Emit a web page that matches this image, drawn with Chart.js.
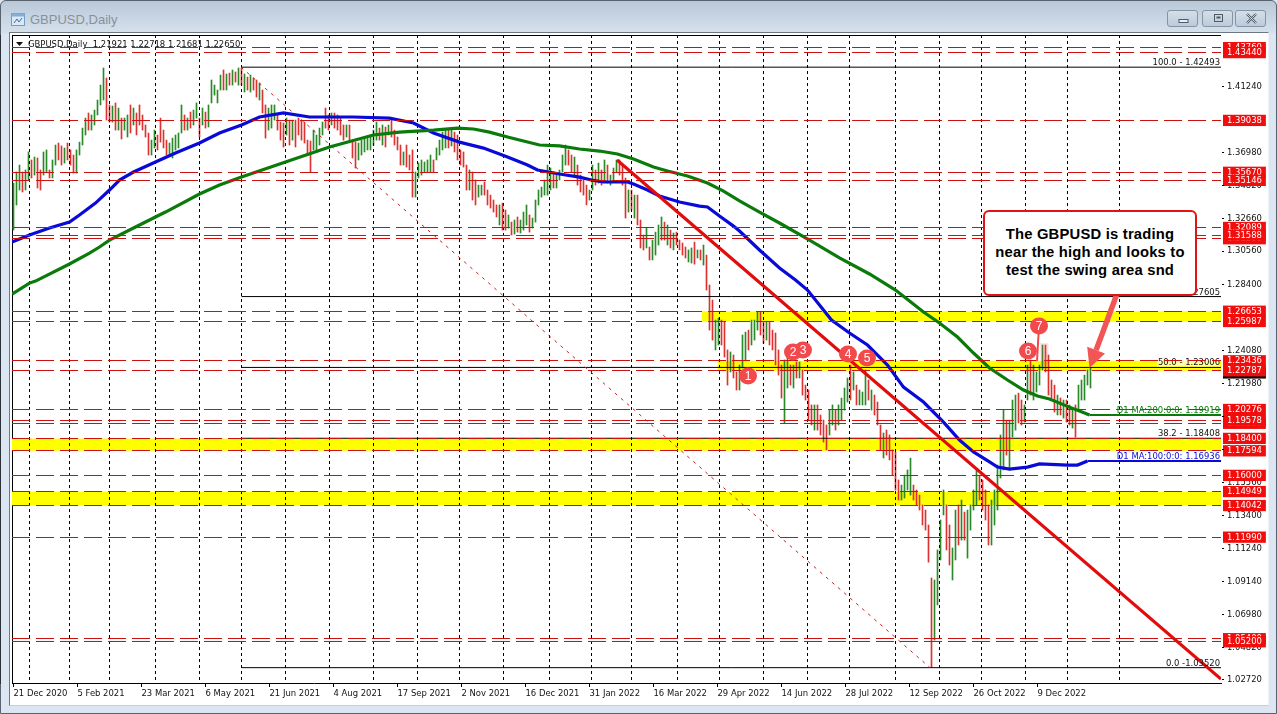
<!DOCTYPE html>
<html>
<head>
<meta charset="utf-8">
<title>GBPUSD,Daily</title>
<script src="https://cdn.jsdelivr.net/npm/chart.js@4"></script>
<style>
html, body { margin: 0; padding: 0; width: 1277px; height: 714px; overflow: hidden; background: #dbe6f1; }
#frame { position: absolute; left: 0; top: 0; width: 1275px; height: 712px; border: 1px solid #59636e; border-radius: 6px 6px 0 0;
    background: linear-gradient(#b9c8d8 0, #d6e1ec 32px, #dbe6f2 33px); }
#panel { position: absolute; left: 9px; top: 32px; width: 1258px; height: 672px; background: #fff;
    border-left: 1px solid #6d7780; border-top: 1px solid #6d7780; border-right: 1px solid #eef2f6; border-bottom: 1px solid #c9ced4; }
#plotEdge { position: absolute; left: 12px; top: 35px; width: 1209px; height: 648px; border-left: 1px solid #000; border-top: 1px solid #000; box-sizing: border-box; }
#winTitle { position: absolute; left: 30px; top: 12px; font: 13px "Liberation Sans", sans-serif; color: #87919b; }
#winIcon { position: absolute; left: 11px; top: 12px; }
.winBtn { position: absolute; top: 10px; width: 31px; height: 17px; border: 1px solid #8494a5; border-radius: 3px; box-sizing: border-box;
    background: linear-gradient(#d5dfe9, #bccadb); }
.winBtn svg { position: absolute; left: 8px; top: 2px; }
canvas { position: absolute; left: 0; top: 0; }
#noteBox { position: absolute; left: 983px; top: 210px; width: 214px; height: 86px; box-sizing: border-box; background: #fff; border: 2px solid #e01414; border-radius: 6px;
    font: bold 14.8px/18px "Liberation Sans", Arial, sans-serif; color: #000; text-align: center; padding-top: 13px; letter-spacing: 0.2px; }
</style>
</head>
<body>
<div id="frame"></div>
<div id="panel"></div>
<div id="plotEdge"></div>
<svg id="winIcon" width="15" height="15"><rect x="0.5" y="1.5" width="13" height="12" fill="#dbe9f6" stroke="#6f9fc8"/><rect x="0.5" y="1.5" width="13" height="3" fill="#7fb0da"/><path d="M3 11 L6 7 L8 10 L11 6" fill="none" stroke="#3d6f9c"/></svg>
<div id="winTitle">GBPUSD,Daily</div>
<div class="winBtn" style="left:1167px"><svg width="15" height="12"><rect x="3" y="6.5" width="9" height="3" fill="#e8eef4" stroke="#4f5a65"/></svg></div>
<div class="winBtn" style="left:1202px"><svg width="15" height="12"><rect x="3.5" y="1.5" width="8" height="7" fill="none" stroke="#4f5a65"/><rect x="5.5" y="3.5" width="4" height="2" fill="#4f5a65"/></svg></div>
<div class="winBtn" style="left:1235px"><svg width="15" height="12"><path d="M3 1 L12 10 M12 1 L3 10" stroke="#4f5a65" stroke-width="2.4"/><path d="M3 1 L12 10 M12 1 L3 10" stroke="#eef2f6" stroke-width="0.8"/></svg></div>
<canvas id="chart" width="1277" height="714"></canvas>
<div id="noteBox">The GBPUSD is trading<br>near the high and looks to<br>test the swing area snd</div>

<script>
// --- DATOS ---
const barHigh = [
    1.3497,1.3569,1.3614,1.3569,1.3582,1.3699,1.3647,1.3666,1.3660,1.3582,
    1.3699,1.3712,1.3582,1.3647,1.3744,1.3757,1.3738,1.3725,1.3757,1.3712,
    1.3679,1.3712,1.3763,1.3854,1.3919,1.3952,1.3939,1.3971,1.4036,1.4133,
    1.4244,1.4179,1.4004,1.3997,1.4017,1.3984,1.3919,1.3919,1.3939,1.4004,
    1.3984,1.3952,1.4004,1.3939,1.3874,1.3822,1.3776,1.3841,1.3809,1.3919,
    1.3841,1.3776,1.3757,1.3789,1.3809,1.3822,1.4004,1.3939,1.3919,1.3958,
    1.3971,1.4017,1.3919,1.3984,1.3958,1.4004,1.4166,1.4133,1.4101,1.4198,
    1.4231,1.4205,1.4211,1.4231,1.4218,1.4244,1.4244,1.4205,1.4185,1.4198,
    1.4179,1.4166,1.4146,1.4101,1.4004,1.3984,1.4004,1.4004,1.3939,1.3893,
    1.3887,1.3919,1.3906,1.3906,1.3906,1.3919,1.3906,1.3893,1.3776,1.3770,
    1.3841,1.3809,1.3854,1.3893,1.3984,1.3939,1.3952,1.3952,1.3939,1.3919,
    1.3874,1.3874,1.3874,1.3776,1.3763,1.3757,1.3776,1.3789,1.3802,1.3809,
    1.3841,1.3893,1.3854,1.3874,1.3861,1.3874,1.3906,1.3841,1.3796,1.3744,
    1.3699,1.3744,1.3679,1.3712,1.3569,1.3627,1.3647,1.3634,1.3647,1.3679,
    1.3647,1.3725,1.3776,1.3828,1.3841,1.3841,1.3841,1.3828,1.3809,1.3712,
    1.3699,1.3614,1.3582,1.3569,1.3517,1.3484,1.3484,1.3504,1.3452,1.3419,
    1.3387,1.3355,1.3355,1.3367,1.3322,1.3290,1.3244,1.3257,1.3277,1.3257,
    1.3309,1.3355,1.3290,1.3270,1.3387,1.3452,1.3471,1.3517,1.3614,1.3595,
    1.3569,1.3549,1.3582,1.3679,1.3744,1.3712,1.3679,1.3666,1.3614,1.3549,
    1.3517,1.3484,1.3452,1.3614,1.3582,1.3627,1.3582,1.3647,1.3614,1.3549,
    1.3595,1.3647,1.3647,1.3614,1.3530,1.3452,1.3452,1.3419,1.3419,1.3257,
    1.3160,1.3205,1.3082,1.3127,1.3179,1.3225,1.3277,1.3244,1.3225,1.3192,
    1.3173,1.3179,1.3127,1.3108,1.3082,1.3063,1.3076,1.3114,1.3063,1.3063,
    1.3095,1.3030,1.2835,1.2738,1.2608,1.2621,1.2608,1.2595,1.2414,1.2401,
    1.2381,1.2271,1.2316,1.2511,1.2530,1.2543,1.2608,1.2608,1.2660,1.2660,
    1.2595,1.2595,1.2595,1.2543,1.2524,1.2414,1.2316,1.2349,1.2368,1.2316,
    1.2316,1.2336,1.2336,1.2284,1.2186,1.2154,1.2057,1.2057,1.2057,1.1992,
    1.1959,1.1927,1.2024,1.2057,1.2024,1.2057,1.2102,1.2167,1.2232,1.2316,
    1.2271,1.2186,1.2154,1.2141,1.2284,1.2219,1.2154,1.2121,1.2076,1.1927,
    1.1875,1.1894,1.1862,1.1765,1.1752,1.1570,1.1537,1.1602,1.1635,1.1712,
    1.1537,1.1505,1.1472,1.1408,1.1375,1.1278,1.0934,1.0921,1.1116,1.1310,
    1.1505,1.1408,1.1278,1.1129,1.1375,1.1408,1.1440,1.1362,1.1375,1.1408,
    1.1505,1.1635,1.1602,1.1570,1.1505,1.1408,1.1440,1.1505,1.1667,1.1862,
    1.2024,1.1959,1.1959,1.2089,1.2121,1.2134,1.2089,1.2057,1.2316,1.2349,
    1.2316,1.2271,1.2316,1.2446,1.2446,1.2381,1.2219,1.2186,1.2121,1.2102,
    1.2089,1.2089,1.2057,1.2024,1.2057,1.2186,1.2219,1.2251,1.2284,1.2297
];
const barLow = [
    1.3192,1.3355,1.3452,1.3439,1.3452,1.3517,1.3530,1.3549,1.3465,1.3452,
    1.3549,1.3569,1.3530,1.3530,1.3614,1.3647,1.3614,1.3627,1.3647,1.3614,
    1.3562,1.3562,1.3679,1.3744,1.3809,1.3841,1.3841,1.3874,1.3939,1.4004,
    1.4036,1.3906,1.3893,1.3893,1.3841,1.3841,1.3783,1.3841,1.3796,1.3822,
    1.3874,1.3809,1.3874,1.3841,1.3796,1.3679,1.3679,1.3725,1.3712,1.3763,
    1.3725,1.3679,1.3679,1.3660,1.3712,1.3725,1.3822,1.3841,1.3841,1.3854,
    1.3874,1.3919,1.3796,1.3874,1.3854,1.3861,1.4017,1.4068,1.4017,1.4101,
    1.4101,1.4101,1.4133,1.4133,1.4153,1.4133,1.4133,1.4088,1.4101,1.4088,
    1.4101,1.4055,1.4036,1.3952,1.3789,1.3841,1.3854,1.3906,1.3841,1.3776,
    1.3731,1.3809,1.3744,1.3776,1.3731,1.3809,1.3776,1.3757,1.3679,1.3569,
    1.3712,1.3712,1.3744,1.3809,1.3854,1.3841,1.3874,1.3854,1.3841,1.3809,
    1.3776,1.3796,1.3763,1.3660,1.3595,1.3647,1.3679,1.3699,1.3712,1.3712,
    1.3744,1.3776,1.3776,1.3744,1.3731,1.3809,1.3796,1.3744,1.3712,1.3614,
    1.3614,1.3601,1.3582,1.3406,1.3406,1.3530,1.3549,1.3569,1.3569,1.3569,
    1.3569,1.3647,1.3679,1.3712,1.3725,1.3725,1.3738,1.3699,1.3647,1.3614,
    1.3601,1.3452,1.3452,1.3387,1.3355,1.3406,1.3419,1.3419,1.3355,1.3335,
    1.3309,1.3277,1.3225,1.3192,1.3192,1.3205,1.3160,1.3166,1.3179,1.3173,
    1.3192,1.3225,1.3179,1.3205,1.3244,1.3355,1.3406,1.3419,1.3419,1.3452,
    1.3465,1.3465,1.3517,1.3569,1.3614,1.3614,1.3569,1.3549,1.3484,1.3439,
    1.3419,1.3355,1.3387,1.3452,1.3484,1.3497,1.3484,1.3517,1.3497,1.3484,
    1.3517,1.3569,1.3549,1.3484,1.3270,1.3309,1.3322,1.3270,1.3225,1.3076,
    1.3063,1.3076,1.2998,1.2998,1.3030,1.3095,1.3127,1.3127,1.3095,1.3076,
    1.3063,1.3095,1.3063,1.3030,1.3011,1.2985,1.2978,1.2971,1.3011,1.2998,
    1.2965,1.2803,1.2543,1.2478,1.2414,1.2446,1.2446,1.2368,1.2186,1.2271,
    1.2232,1.2154,1.2154,1.2297,1.2349,1.2414,1.2446,1.2478,1.2543,1.2511,
    1.2459,1.2478,1.2446,1.2414,1.2316,1.2251,1.2102,1.1940,1.2167,1.2186,
    1.2167,1.2232,1.2232,1.2121,1.2089,1.1959,1.1927,1.1894,1.1894,1.1862,
    1.1816,1.1765,1.1862,1.1927,1.1894,1.1927,1.1959,1.2024,1.2076,1.2089,
    1.2154,1.2057,1.2057,1.2057,1.2057,1.2089,1.2024,1.1992,1.1927,1.1765,
    1.1713,1.1732,1.1700,1.1602,1.1505,1.1440,1.1440,1.1453,1.1505,1.1472,
    1.1440,1.1408,1.1375,1.1278,1.1245,1.1037,1.0356,1.0531,1.0759,1.1051,
    1.1343,1.1116,1.1018,1.0921,1.1051,1.1148,1.1180,1.1180,1.1063,1.1245,
    1.1375,1.1408,1.1440,1.1375,1.1310,1.1148,1.1148,1.1278,1.1375,1.1583,
    1.1635,1.1732,1.1635,1.1849,1.1894,1.1940,1.1927,1.1946,1.2089,1.2121,
    1.2089,1.2141,1.2186,1.2284,1.2271,1.2121,1.2102,1.2011,1.1992,1.1992,
    1.1972,1.1946,1.1927,1.1907,1.1849,1.2024,1.2089,1.2089,1.2186,1.2167
];
const barSide = (
    'uuuduuduDD' + 'uuduuDDuDD' + 'DuuuuDuuuu' + 'uDDuDuDuuD' + 'uDDDDDuuDD' + 'DDuuuuuDuD' +
    'uuDuDuuuuu' + 'DuDuDuDuDu' + 'DDuDDuuuDD' + 'DuDuDDDDDD' + 'uuuuDDuDDD' + 'DuDDDuuuuu' +
    'uuDuDuDDDD' + 'uDDDuuuuuu' + 'DuuuuDuDDD' + 'DDuDDuuDDD' + 'DDuDDuDuDu' + 'uuDuuuuuuu' +
    'DuuuuDDuDD' + 'DDuuDuDuDu' + 'uuDDDuDuDD' + 'DuDuuuuDuD' + 'uDDDDuuDuD' + 'uDDDuuDDDu' +
    'DDuuuDuuuD' + 'DuDDDDDuuD' + 'uDuDDDDuDD' + 'DDuuDuuuuD' + 'uDuuuDuDDD' + 'uDDDDDuuuu' +
    'DDDDDDDuuu' + 'uDDuuDuDuu' + 'uuDDDDuuuu' + 'uDuuuDDuuD' + 'uuuuDDDDuD' + 'uDDuDuuuuu'
).split('');

const blueBars = [-0.75,8,18,28,33,41,48,53,60,71,81,93,103,114,123,135,148,170,188,200,210,223,235,247,257,262,273,283,289,295,307,310,317,323,333,343,347,353,360,363,373,383,391,397,405,409,418,427,437,445,455,465,473,480,488,492,498,507,513,527,532,537];
const blueVals = [1.3115,1.3160,1.3205,1.3244,1.3290,1.3367,1.3452,1.3517,1.3569,1.3634,1.3692,1.3757,1.3822,1.3874,1.3926,1.3952,1.3926,1.3926,1.3919,1.3887,1.3822,1.3763,1.3724,1.3666,1.3614,1.3582,1.3556,1.3536,1.3517,1.3504,1.3504,1.3491,1.3452,1.3413,1.3374,1.3348,1.3342,1.3283,1.3218,1.3186,1.3063,1.2946,1.2868,1.2803,1.2673,1.2608,1.2524,1.2446,1.2316,1.2173,1.2076,1.1946,1.1829,1.1752,1.1687,1.1654,1.1641,1.1654,1.1674,1.1667,1.1667,1.1693];
const greenBars = [-0.75,8,11,28,38,43,48,61,76,93,103,114,136,158,180,193,210,222,230,238,247,255,263,273,283,293,302,310,320,327,337,347,355,363,373,383,398,413,428,441,448,455,463,472,480,488,497,505,512,518,528,533,538];
const greenVals = [1.2777,1.2848,1.2861,1.2972,1.3043,1.3082,1.3127,1.3212,1.3309,1.3426,1.3484,1.3536,1.3634,1.3731,1.3809,1.3828,1.3841,1.3854,1.3848,1.3828,1.3796,1.3770,1.3744,1.3738,1.3718,1.3705,1.3686,1.3653,1.3601,1.3575,1.3543,1.3497,1.3445,1.3381,1.3309,1.3238,1.3127,1.3011,1.2907,1.2803,1.2732,1.2660,1.2589,1.2498,1.2394,1.2297,1.2219,1.2154,1.2115,1.2096,1.2043,1.2018,1.1992];
const blueLast = 1.16936;
const greenLast = 1.19919;

const tickBars = [0,32,64,96,128,160,192,224,256,288,320,352,384,416,448,480,512];
const tickLabels = ['21 Dec 2020','5 Feb 2021','23 Mar 2021','6 May 2021','21 Jun 2021','4 Aug 2021','17 Sep 2021','2 Nov 2021','16 Dec 2021','31 Jan 2022','16 Mar 2022','29 Apr 2022','14 Jun 2022','28 Jul 2022','12 Sep 2022','26 Oct 2022','9 Dec 2022'];
const monthBars = [8,28,48,71,93,114,136,158,180,202,223,245,268,289,309,332,353,375,397,418,441,463,484,506,527,553];

const axisPrices = [1.4124,1.3698,1.3482,1.3266,1.3056,1.284,1.2408,1.2198,1.1982,1.1766,1.1556,1.134,1.1124,1.0914,1.0698,1.0482,1.0272];
const levelPrices = [1.4376,1.4344,1.39038,1.3567,1.35146,1.32089,1.3136,1.31588,1.26653,1.25987,1.23436,1.22787,1.20276,1.1938,1.19578,1.184,1.17594,1.16,1.14949,1.14042,1.1199,1.054,1.052];
const lastPrice = 1.2265;

const bandHigh = [1.26653,1.23436,1.184,1.14949];
const bandLow = [1.25987,1.22787,1.17594,1.14042];
const bandStart = [344,352,-0.75,-0.75];

const fibTexts = ['100.0 - 1.42493','61.8 - 1.27605','50.0 - 1.23006','38.2 - 1.18408','0.0 -1.03520'];
const fibPrices = [1.42493,1.27605,1.23006,1.18408,1.0352];
const fibStartBar = 114;
const fibDiagBars = [113.75,458.25];
const fibDiagVals = [1.42493,1.0352];
const trendBars = [301.75,603.75];
const trendVals = [1.3647,1.0278];

const swingNames = ['1','2','3','4','5','6','7'];
const swingBars = [367.25,389.75,394.75,417.25,426.75,507.25,512.75];
const swingVals = [1.2245,1.2401,1.2414,1.2388,1.2362,1.2407,1.2569];
const arrowBars = [551.5,538];
const arrowVals = [1.2770,1.2297];

const infoText = 'GBPUSD,Daily  1.21921 1.22718 1.21681 1.22650';
const blueText = 'D1 MA:100:0:0: 1.16936';
const greenText = 'D1 MA:200:0:0: 1.19919';

const X_MIN = -0.75, X_MAX = 603.75;
const Y_MIN = 1.02525, Y_MAX = 1.44581;
const AXIS_FONT = '"DejaVu Sans Condensed", "DejaVu Sans", sans-serif';

// --- CONJUNTOS ---
const pairs = (xs, ys) => xs.map((x, i) => ({ x: x, y: ys[i] }));
const plainLine = (data, color, width, extra) => Object.assign({
    type: 'line', data: data, borderColor: color, borderWidth: width, pointRadius: 0, tension: 0, fill: false
}, extra || {});

// las verticales van en un solo conjunto, cortadas con null
const monthPoints = [];
monthBars.forEach(b => {
    monthPoints.push({ x: b, y: Y_MAX }, { x: b, y: 1.0272 }, { x: b, y: null });
});

const fibPoints = [];
fibPrices.forEach(p => {
    fibPoints.push({ x: fibStartBar, y: p }, { x: X_MAX, y: p }, { x: X_MAX, y: null });
});

const datasets = [
    plainLine(pairs(trendBars, trendVals), '#e30c0c', 3.2),
    plainLine(pairs(greenBars, greenVals), '#0a7a0a', 3.2),
    plainLine(pairs([538, X_MAX], [greenLast, greenLast]), '#0a7a0a', 2),
    plainLine(pairs(blueBars, blueVals), '#0a0ad8', 3.2),
    plainLine(pairs([537, X_MAX], [blueLast, blueLast]), '#0a0ad8', 2),
    plainLine(pairs(fibDiagBars, fibDiagVals), '#c81e1e', 1, { borderDash: [3, 5] }),
    plainLine(fibPoints, '#000', 1, { spanGaps: false }),
    plainLine(monthPoints, '#000', 1, { borderDash: [3, 3], spanGaps: false }),
    {
        type: 'bar',
        data: barHigh.map((h, i) => ({ x: i * 1.5, y: [barLow[i], h] })),
        backgroundColor: barSide.map(s => s === 'u' ? '#2a8a2a' : '#dc3232'),
        borderWidth: 0,
        barThickness: 1
    }
];

bandHigh.forEach((h, i) => {
    datasets.push(plainLine(pairs([bandStart[i], X_MAX], [h, h]), 'rgba(0,0,0,0)', 0, { fill: '+1', backgroundColor: '#ffff00' }));
    datasets.push(plainLine(pairs([bandStart[i], X_MAX], [bandLow[i], bandLow[i]]), 'rgba(0,0,0,0)', 0));
});

// --- TEXTOS Y MARCAS ENCIMA ---
const notes = {
    id: 'notes',
    afterDatasetsDraw(chart) {
        const c = chart.ctx, ys = chart.scales.y;
        const right = chart.chartArea.right - 1;
        c.save();
        c.font = '9.4px ' + AXIS_FONT;
        c.textBaseline = 'alphabetic';
        c.textAlign = 'right';
        fibTexts.forEach((t, i) => {
            const y = ys.getPixelForValue(fibPrices[i]) - 2;
            if (fibPrices[i] === 1.23006) {
                c.fillStyle = 'rgba(255,255,255,0.65)';
                c.fillRect(right - c.measureText(t).width - 1, y - 7, c.measureText(t).width + 1, 8);
            }
            c.fillStyle = '#111';
            c.fillText(t, right, y);
        });
        c.fillStyle = '#0a7a0a';
        c.fillText(greenText, right, ys.getPixelForValue(greenLast) - 2);
        c.fillStyle = '#0a0ad8';
        c.fillText(blueText, right, ys.getPixelForValue(blueLast) - 2);
        c.textAlign = 'left';
        c.fillStyle = '#111';
        c.fillText(infoText, 28, 47);
        c.beginPath();
        c.moveTo(16, 42); c.lineTo(23, 42); c.lineTo(19.5, 46); c.closePath();
        c.fill();
        c.restore();
    },
    afterDraw(chart) {
        const c = chart.ctx, xs = chart.scales.x, ys = chart.scales.y;
        c.save();
        // parche claro junto al 7
        c.fillStyle = 'rgba(242,73,76,0.18)';
        c.fillRect(xs.getPixelForValue(513.5), ys.getPixelForValue(1.2458), 8, 22);
        c.fillStyle = '#f2494c';
        c.strokeStyle = '#f2494c';
        // tallo del 7
        c.lineWidth = 2;
        c.beginPath();
        c.moveTo(xs.getPixelForValue(swingBars[6]), ys.getPixelForValue(swingVals[6]));
        c.lineTo(xs.getPixelForValue(swingBars[6]) - 2, ys.getPixelForValue(1.2342));
        c.stroke();
        swingBars.forEach((b, i) => {
            c.beginPath();
            c.ellipse(xs.getPixelForValue(b), ys.getPixelForValue(swingVals[i]), 9, 8.5, 0, 0, Math.PI * 2);
            c.fill();
        });
        c.fillStyle = '#fff';
        c.font = '12px "Liberation Sans", sans-serif';
        c.textAlign = 'center';
        c.textBaseline = 'middle';
        swingNames.forEach((n, i) => {
            c.fillText(n, xs.getPixelForValue(swingBars[i]), ys.getPixelForValue(swingVals[i]) + 0.5);
        });
        // flecha grande
        const x0 = xs.getPixelForValue(arrowBars[0]), y0 = ys.getPixelForValue(arrowVals[0]);
        const x1 = xs.getPixelForValue(arrowBars[1]), y1 = ys.getPixelForValue(arrowVals[1]);
        const ang = Math.atan2(y1 - y0, x1 - x0);
        const neckX = x1 - Math.cos(ang) * 19, neckY = y1 - Math.sin(ang) * 19;
        c.strokeStyle = '#f25555';
        c.fillStyle = '#f25555';
        c.lineWidth = 5.5;
        c.beginPath();
        c.moveTo(x0, y0);
        c.lineTo(neckX, neckY);
        c.stroke();
        c.beginPath();
        c.moveTo(x1, y1);
        c.lineTo(neckX + Math.sin(ang) * 9.5, neckY - Math.cos(ang) * 9.5);
        c.lineTo(neckX - Math.sin(ang) * 9.5, neckY + Math.cos(ang) * 9.5);
        c.closePath();
        c.fill();
        c.restore();
    }
};

// --- GRAFICO ---
const levelSet = new Set(levelPrices);
const axisSet = new Set(axisPrices);

const priceChart = new Chart(document.getElementById('chart').getContext('2d'), {
    data: { datasets: datasets },
    plugins: [notes],
    options: {
        responsive: false,
        animation: false,
        events: [],
        layout: { padding: { left: 12, top: 35, right: 0, bottom: 0 } },
        plugins: {
            legend: { display: false },
            tooltip: { enabled: false },
            filler: { drawTime: 'beforeDatasetsDraw' }
        },
        scales: {
            x: {
                type: 'linear',
                min: X_MIN,
                max: X_MAX,
                offset: false,
                afterBuildTicks: s => { s.ticks = tickBars.map(v => ({ value: v })); },
                afterFit: s => { s.height = 31; },
                grid: { drawOnChartArea: false, offset: false, tickLength: 4, tickColor: '#000' },
                border: { color: '#000' },
                ticks: {
                    autoSkip: false,
                    maxRotation: 0,
                    align: 'start',
                    padding: 1,
                    color: '#111',
                    font: { family: AXIS_FONT, size: 9.4 },
                    callback: (v, i) => tickLabels[i]
                }
            },
            y: {
                type: 'linear',
                position: 'right',
                min: Y_MIN,
                max: Y_MAX,
                afterBuildTicks: s => {
                    s.ticks = axisPrices.concat([lastPrice], levelPrices).map(v => ({ value: v }));
                },
                afterFit: s => { s.width = 56; },
                grid: {
                    z: 1,
                    lineWidth: 1,
                    tickLength: 3,
                    color: c => levelSet.has(c.tick.value) ? '#cc1111' : 'rgba(0,0,0,0)',
                    tickColor: c => axisSet.has(c.tick.value) ? '#000' : 'rgba(0,0,0,0)'
                },
                border: { color: '#000', dash: [18, 6] },
                ticks: {
                    autoSkip: false,
                    padding: 3,
                    sampleSize: 60,
                    font: { family: AXIS_FONT, size: 9.4 },
                    color: c => axisSet.has(c.tick.value) ? '#111' : '#fff',
                    showLabelBackdrop: c => !axisSet.has(c.tick.value),
                    backdropColor: c => levelSet.has(c.tick.value) ? '#f20d0d' : '#000',
                    backdropPadding: { left: 4, right: 4, top: 0, bottom: 0 },
                    callback: v => v.toFixed(5)
                }
            }
        }
    }
});
</script>
</body>
</html>
